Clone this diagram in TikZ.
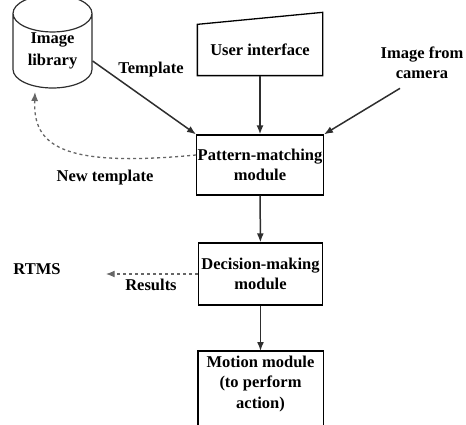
\documentclass[tikz,border=0pt]{standalone}
\usepackage{fontspec}
\setmainfont{Liberation Serif}
\usetikzlibrary{positioning, arrows, arrows.meta, shapes}
\usetikzlibrary{shapes.geometric}
\definecolor{linegray}{HTML}{2E2E2E}
\tikzstyle{flow} = [line width=1.5pt,->,>={Latex[length=9pt,width=7pt]},draw=linegray]

\begin{document}
\begin{tikzpicture}[x=1pt,y=-1pt,nodes={font=\bfseries\fontsize{16.5}{20.5}\selectfont}]
                    \tikzstyle{block} = [rectangle, draw=black, line width=1.3pt,
                    minimum width=124pt, align=center, inner xsep=1pt] \tikzstyle{store} =
                    [cylinder, shape border rotate=90, draw=linegray, line width=1.2pt,
                    aspect=0.75, minimum width=79pt, minimum height=64pt, inner sep=0pt,
                    align=center]
                    \tikzstyle{plain} = [draw=none, align=center, inner sep=1pt]
                    \tikzstyle{dashflow} = [flow, line width=1.3pt, dashed, draw=black!60]

                    \useasboundingbox (0,0) rectangle (466,425);

                    \node[store](lib) at (52.5,51) {Image\\[2pt]library};
                    \node[block, draw=none, minimum height=50pt](ui) at (260,50) {User interface};
                    \draw[line width=1.3pt] (ui.south west) -- (ui.north west)
                        -- ([yshift=12pt]ui.north east) -- (ui.south east) -- cycle;
                    \node[plain](cam) at (422,63) {Image from\\camera};
                    \node[block, minimum height=60pt](pm) at (260,165) {Pattern-matching\\module};
                    \node[block, minimum height=62pt](dm) at (260.5,274) {Decision-making\\module};
                    \node[plain](rtms) at (37,269) {RTMS};
                    \node[block, draw=none, anchor=north, inner ysep=4pt](mm) at (260.5,351)
                        {Motion module\\(to perform\\action)};
                    \draw[line width=1.3pt] ([yshift=-90pt]mm.north west) -- (mm.north west)
                        -- (mm.north east) -- ([yshift=-90pt]mm.north east);

                    \node[plain](tpl) at (151,70) {Template};
                    \node[plain](newtpl) at (105,178) {New template};
                    \node[plain](res) at (151,285) {Results};

                    \draw[flow] ([yshift=-10pt]lib.east) -- (pm.north west);
                    \draw[flow] (ui) -- (pm);
                    \draw[flow] ([xshift=-22pt,yshift=-8pt]cam.south) -- (pm.north east);
                    \draw[dashflow] ([yshift=10pt]pm.west) .. controls (60,168) and (33,145) .. (35,92);
                    \draw[flow] (pm) -- (dm);
                    \draw[dashflow] (dm.west) -- (dm.west -| rtms.east) [shorten >=44pt];
                    \draw[flow] (dm) -- (mm);
\end{tikzpicture}
\end{document}
